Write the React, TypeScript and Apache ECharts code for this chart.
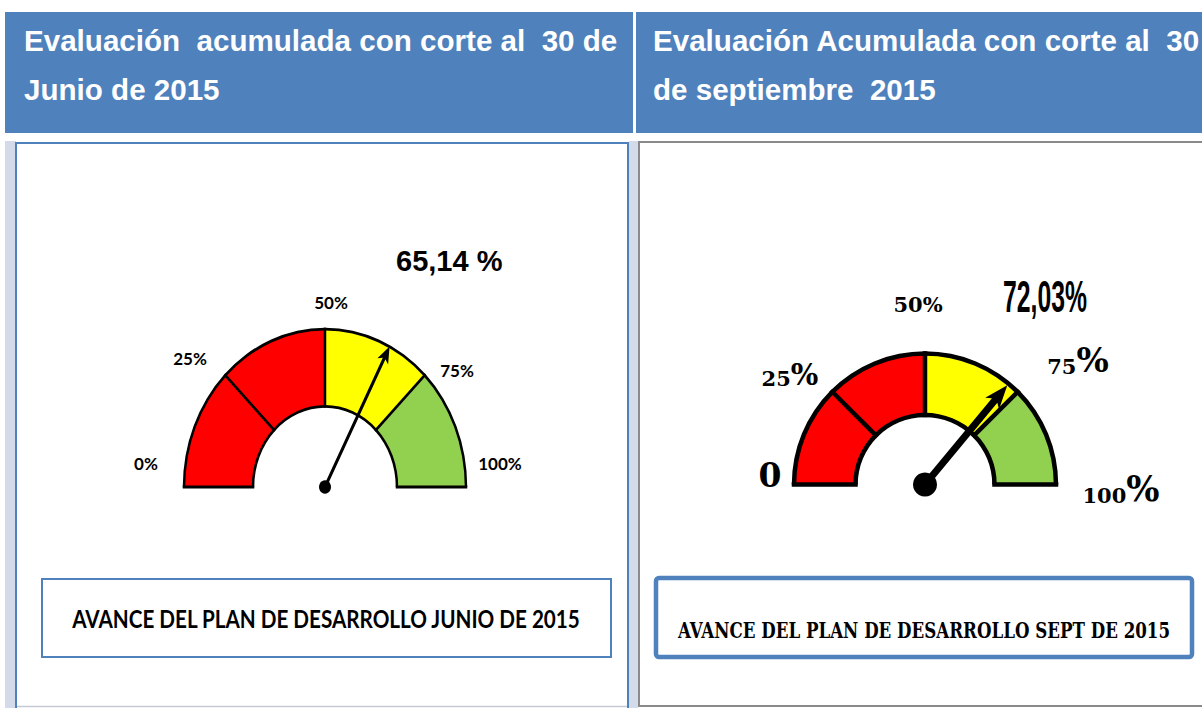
import React, { useEffect, useRef } from 'react';
import * as echarts from 'echarts';

// ---------- data ----------
const headerLines = [
  ['Evaluación  acumulada con corte al  30 de', 'Junio de 2015'],
  ['Evaluación Acumulada con corte al  30', 'de septiembre  2015'],
];
const boxTitles = [
  'AVANCE DEL PLAN DE DESARROLLO JUNIO DE 2015',
  'AVANCE DEL PLAN DE DESARROLLO SEPT DE 2015',
];
const gaugeValues = [65.14, 72.03];
const valueLabels = ['65,14 %', '72,03%'];
const bandStops = [0.25, 0.5, 0.75, 1];
const bandColors = ['#FF0000', '#FF0000', '#FFFF00', '#92D050'];
const tickLabelsJun = ['0%', '25%', '50%', '75%', '100%'];
const tickLabelsSep = ['0', '25%', '50%', '75%', '100%'];

const SANS = '"Liberation Sans", Arial, sans-serif';
const CAL = 'Lato, "Noto Sans", sans-serif';
const SERIF = '"DejaVu Serif", "Liberation Serif", serif';

function gaugeSeries(opts: {
  center: [number, number];
  R: number;
  r: number;
  stroke: number;
  value: number;
  icon: string;
  pw: number;
  pl: number;
  anchor: number;
}) {
  const { center, R, r, stroke, value, icon, pw, pl, anchor } = opts;
  const bw = R - r;
  const common: any = {
    type: 'gauge',
    center,
    startAngle: 180,
    endAngle: 0,
    min: 0,
    max: 100,
    splitNumber: 4,
    axisTick: { show: false },
    axisLabel: { show: false },
    detail: { show: false },
    title: { show: false },
    pointer: { show: false },
    anchor: { show: false },
    progress: { show: false },
    splitLine: { show: false },
    silent: true,
  };
  return [
    {
      ...common,
      radius: R,
      axisLine: {
        lineStyle: { width: bw, color: bandStops.map((s, i) => [s, bandColors[i]]) },
      },
      splitLine: {
        show: true,
        length: bw + stroke,
        distance: -bw - stroke / 2,
        lineStyle: { color: '#000', width: stroke },
      },
      data: [{ value }],
    },
    {
      ...common,
      radius: R + stroke / 2,
      axisLine: { lineStyle: { width: stroke, color: [[1, '#000']] } },
      data: [{ value }],
    },
    {
      ...common,
      radius: r + stroke / 2,
      axisLine: { lineStyle: { width: stroke, color: [[1, '#000']] } },
      data: [{ value }],
    },
    {
      ...common,
      radius: R,
      axisLine: { show: false },
      pointer: {
        show: true,
        icon,
        width: pw,
        length: pl,
        offsetCenter: [0, 0],
        itemStyle: { color: '#000' },
      },
      anchor: { show: true, showAbove: true, size: anchor, itemStyle: { color: '#000' } },
      data: [{ value }],
    },
  ];
}

export default function App() {
  const mainRef = useRef<HTMLDivElement>(null);
  const leftRef = useRef<HTMLDivElement>(null);

  useEffect(() => {
    const ctx = document.createElement('canvas').getContext('2d')!;
    const fit = (text: string, font: string, target: number) => {
      ctx.font = font;
      const w = ctx.measureText(text).width;
      return w > 0 ? target / w : 1;
    };

    const main = echarts.init(mainRef.current!, undefined, { renderer: 'svg' });
    const left = echarts.init(leftRef.current!, undefined, { renderer: 'svg' });

    const txt = (
      text: string,
      x: number,
      y: number,
      fontSize: number,
      fontFamily: string,
      extra: any = {},
      scaleX = 1,
      fill = '#000'
    ) => ({
      type: 'text',
      x,
      y,
      scaleX,
      style: {
        text,
        fill,
        fontSize,
        fontFamily,
        fontWeight: 'bold',
        align: 'left',
        verticalAlign: 'middle',
        textAlign: 'left',
        textVerticalAlign: 'middle',
        ...extra,
      },
    });
    const ctr = { align: 'center', textAlign: 'center' };

    const serifRich = (label: string, digitSize: number, pctSize: number) => {
      const num = label.replace('%', '');
      const hasPct = label.indexOf('%') >= 0;
      return {
        text: `{d|${num}}` + (hasPct ? '{p|%}' : ''),
        rich: {
          d: { fontSize: digitSize, fontFamily: SERIF, fontWeight: 'bold', fill: '#000', verticalAlign: 'bottom' },
          p: { fontSize: pctSize, fontFamily: SERIF, fontWeight: 'bold', fill: '#000', verticalAlign: 'bottom' },
        },
      };
    };
    const richEl = (label: string, x: number, y: number, ds: number, ps: number) => ({
      type: 'text',
      x,
      y,
      style: {
        ...serifRich(label, ds, ps),
        align: 'center',
        verticalAlign: 'bottom',
        textAlign: 'center',
        textVerticalAlign: 'bottom',
      },
    });

    const box1Font = `bold 24px ${CAL}`;
    const box2Font = `bold 23px ${SERIF}`;
    const bigFont = `bold 44px ${SANS}`;

    const elements: any[] = [
      // headers
      { type: 'rect', shape: { x: 5, y: 12, width: 628, height: 121 }, style: { fill: '#4F81BD' } },
      { type: 'rect', shape: { x: 636, y: 12, width: 566, height: 121 }, style: { fill: '#4F81BD' } },
      // light strips
      { type: 'rect', shape: { x: 5, y: 141, width: 11, height: 567 }, style: { fill: '#D3DBEA' } },
      { type: 'rect', shape: { x: 629, y: 141, width: 9, height: 567 }, style: { fill: '#D3DBEA' } },
      // left panel frame
      {
        type: 'rect',
        shape: { x: 16, y: 143, width: 612, height: 580 },
        style: { fill: '#fff', stroke: '#4F81BD', lineWidth: 2 },
      },
      { type: 'line', shape: { x1: 17, y1: 706.5, x2: 627, y2: 706.5 }, style: { stroke: '#C4C9D4', lineWidth: 1.5 } },
      // right panel frame
      {
        type: 'rect',
        shape: { x: 639, y: 142, width: 600, height: 564 },
        style: { fill: '#fff', stroke: '#8A8A8A', lineWidth: 2 },
      },
      // caption boxes
      {
        type: 'rect',
        shape: { x: 42, y: 579, width: 569, height: 78 },
        style: { fill: '#fff', stroke: '#4F81BD', lineWidth: 2 },
      },
      {
        type: 'rect',
        shape: { x: 656, y: 578, width: 536, height: 79, r: 3 },
        style: { fill: '#fff', stroke: '#4F81BD', lineWidth: 4.5 },
      },
      // header texts
      txt(headerLines[0][0], 24, 41, 29, SANS, {}, 1.02, '#fff'),
      txt(headerLines[0][1], 24, 90, 29, SANS, {}, 1.02, '#fff'),
      txt(headerLines[1][0], 653, 41, 29, SANS, {}, 1.02, '#fff'),
      txt(headerLines[1][1], 653, 90, 29, SANS, {}, 1.02, '#fff'),
      // caption texts
      txt(boxTitles[0], 326, 619, 24, CAL, ctr, fit(boxTitles[0], box1Font, 509)),
      txt(boxTitles[1], 924, 630, 23, SERIF, ctr, fit(boxTitles[1], box2Font, 492)),
      // left gauge labels
      txt(valueLabels[0], 396, 261, 29, SANS),
      txt(tickLabelsJun[0], 146, 463, 17, CAL, ctr),
      txt(tickLabelsJun[1], 190, 358, 17, CAL, ctr),
      txt(tickLabelsJun[2], 331, 302, 17, CAL, ctr),
      txt(tickLabelsJun[3], 457, 370, 17, CAL, ctr),
      txt(tickLabelsJun[4], 500, 463, 17, CAL, ctr),
      // right gauge labels
      txt(valueLabels[1], 1045, 297, 44, SANS, ctr, fit(valueLabels[1], bigFont, 84)),
      richEl(tickLabelsSep[0], 770, 492, 33, 33),
      richEl(tickLabelsSep[1], 790, 389, 21, 29),
      richEl(tickLabelsSep[2], 918, 315, 21, 21),
      richEl(tickLabelsSep[3], 1078, 377, 21, 34),
      richEl(tickLabelsSep[4], 1121, 506, 21, 35),
    ];

    main.setOption({
      animation: false,
      graphic: { elements },
      series: gaugeSeries({
        center: [925, 484.5],
        R: 131,
        r: 69.5,
        stroke: 4.5,
        value: gaugeValues[1],
        icon: 'path://M5.5 130 L5.5 20 L0 24 L9 0 L18 24 L12.5 20 L12.5 130 Z',
        pw: 18,
        pl: 129,
        anchor: 24,
      }),
    });

    left.setOption({
      animation: false,
      series: gaugeSeries({
        center: [325, 487],
        R: 141,
        r: 72,
        stroke: 2.5,
        value: gaugeValues[0],
        icon: 'path://M4.5 142 L4.5 12 L0 15 L6 0 L12 15 L7.5 12 L7.5 142 Z',
        pw: 12,
        pl: 141,
        anchor: 12,
      }),
    });

    return () => {
      main.dispose();
      left.dispose();
    };
  }, []);

  return (
    <div style={{ position: 'fixed', left: 0, top: 0, width: 1202, height: 708, background: '#fff', overflow: 'hidden' }}>
      <div ref={mainRef} style={{ position: 'absolute', left: 0, top: 0, width: 1202, height: 708 }} />
      <div
        ref={leftRef}
        style={{
          position: 'absolute',
          left: 0,
          top: 0,
          width: 1202,
          height: 708,
          transform: 'scaleY(1.12)',
          transformOrigin: '325px 487px',
          pointerEvents: 'none',
        }}
      />
    </div>
  );
}
